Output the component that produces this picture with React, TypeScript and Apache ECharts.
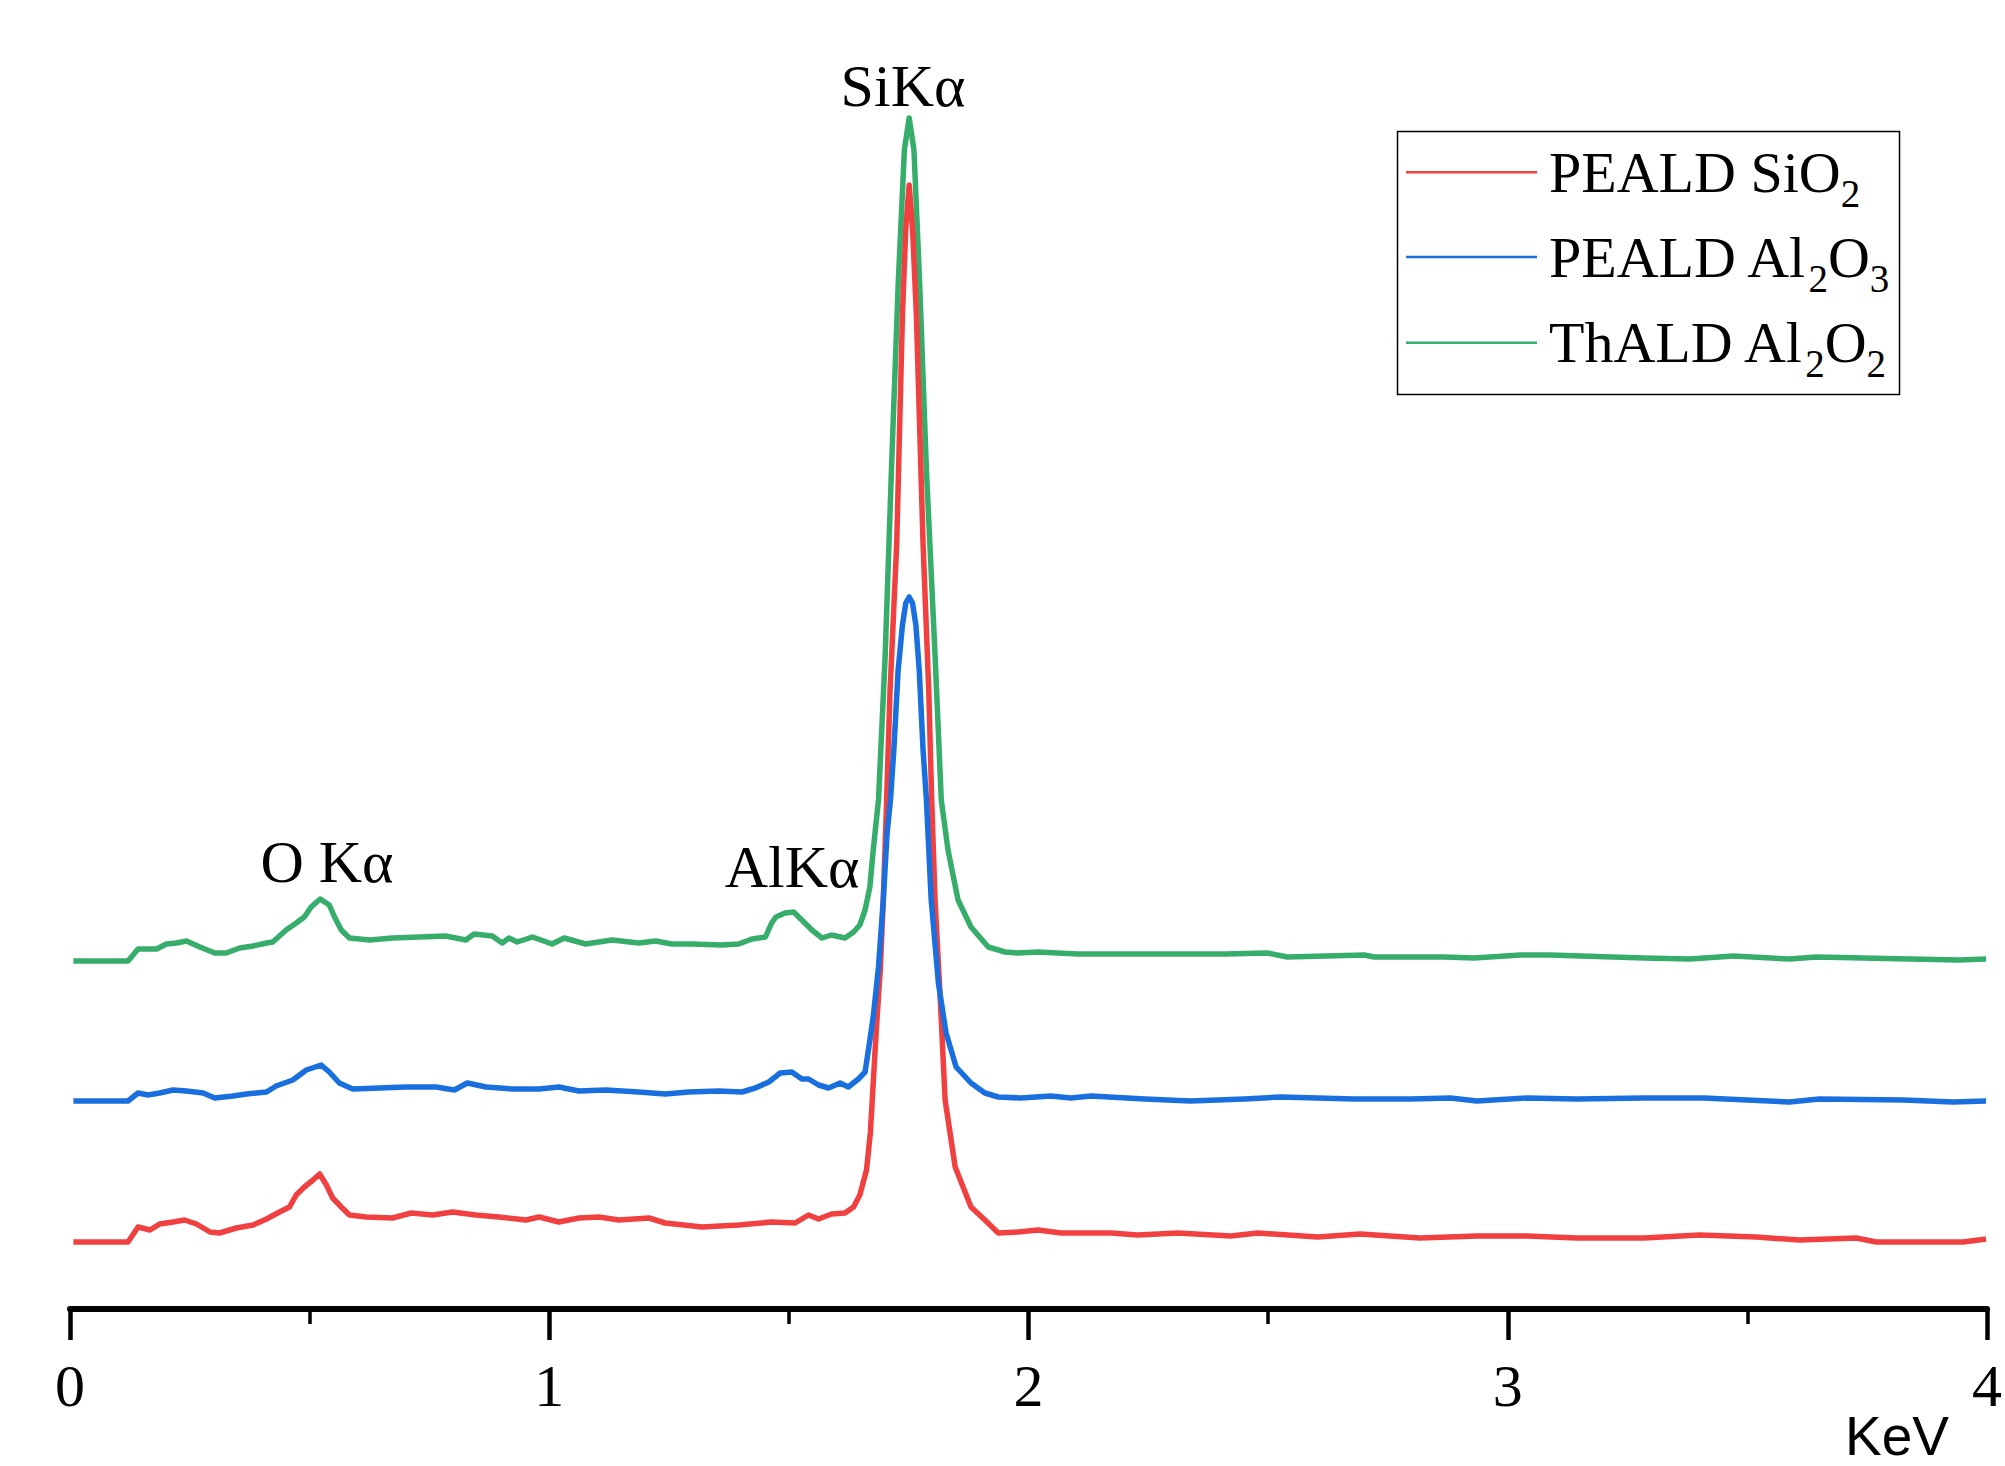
import React, { useEffect, useRef } from "react";
import * as echarts from "echarts";

// ---- data (energy in keV, intensity in a.u. with vertical offsets as plotted) ----
const energyMin = 0;
const energyMax = 4;
const energyStep = 1;
const intensityMax = 1309;

const seriesNames = ["PEALD SiO2", "PEALD Al2O3", "ThALD Al2O2"];
const legendTexts = [
  "{m|PEALD SiO}{s|2}",
  "{m|PEALD Al}{s|2}{m|O}{s|3}",
  "{m|ThALD Al}{s|2}{m|O}{s|2}",
];
const peakLabelTexts = ["O Kα", "AlKα", "SiKα"];
const axisUnit = "KeV";

const peSiO2: [number, number][] = [
  [0.007, 67], [0.121, 67], [0.142, 82], [0.167, 79], [0.187, 85], [0.215, 87], [0.239, 89], [0.264, 85],
  [0.292, 77], [0.312, 76], [0.347, 81], [0.382, 84], [0.41, 90], [0.437, 97], [0.458, 102], [0.472, 114],
  [0.489, 122], [0.507, 129], [0.521, 135], [0.535, 124], [0.548, 111], [0.566, 102], [0.583, 94], [0.618, 92],
  [0.673, 91], [0.712, 96], [0.757, 94], [0.798, 97], [0.847, 94], [0.895, 92], [0.951, 89], [0.979, 92],
  [1.02, 87], [1.062, 91], [1.104, 92], [1.145, 89], [1.208, 91], [1.242, 86], [1.319, 82], [1.395, 84],
  [1.464, 87], [1.513, 86], [1.541, 94], [1.562, 90], [1.589, 95], [1.617, 96], [1.635, 102], [1.648, 114],
  [1.662, 139], [1.67, 176], [1.676, 226], [1.682, 276], [1.691, 342], [1.697, 409], [1.704, 509], [1.711, 617],
  [1.725, 765], [1.737, 995], [1.744, 1081], [1.751, 1124], [1.758, 1081], [1.766, 995], [1.78, 765], [1.792, 617],
  [1.798, 509], [1.805, 409], [1.816, 309], [1.826, 209], [1.847, 142], [1.88, 102], [1.909, 89], [1.937, 76],
  [1.978, 77], [2.02, 79], [2.068, 76], [2.172, 76], [2.228, 74], [2.311, 76], [2.422, 73], [2.478, 76],
  [2.603, 72], [2.692, 75], [2.817, 71], [2.936, 73], [3.04, 73], [3.144, 71], [3.284, 71], [3.4, 74],
  [3.519, 72], [3.609, 69], [3.727, 71], [3.769, 67], [3.95, 67], [3.998, 70],
];

const peAl2O3: [number, number][] = [
  [0.007, 208], [0.121, 208], [0.142, 216], [0.163, 214], [0.187, 216], [0.215, 219], [0.243, 218], [0.278, 216],
  [0.302, 211], [0.34, 213], [0.368, 215], [0.41, 217], [0.43, 223], [0.465, 229], [0.493, 239], [0.524, 244],
  [0.541, 237], [0.562, 226], [0.59, 220], [0.646, 221], [0.701, 222], [0.764, 222], [0.802, 219], [0.829, 226],
  [0.868, 222], [0.923, 220], [0.979, 220], [1.02, 222], [1.062, 218], [1.118, 219], [1.187, 217], [1.242, 215],
  [1.291, 217], [1.353, 218], [1.402, 217], [1.43, 221], [1.458, 227], [1.482, 236], [1.506, 237], [1.527, 230],
  [1.541, 230], [1.562, 224], [1.583, 221], [1.607, 226], [1.624, 222], [1.645, 230], [1.659, 237], [1.666, 259],
  [1.676, 292], [1.687, 342], [1.697, 409], [1.705, 476], [1.712, 509], [1.719, 559], [1.728, 639], [1.737, 684],
  [1.744, 706], [1.751, 712], [1.758, 706], [1.765, 684], [1.772, 639], [1.78, 559], [1.787, 509], [1.797, 409],
  [1.812, 326], [1.828, 276], [1.849, 242], [1.88, 226], [1.909, 216], [1.937, 212], [1.984, 211], [2.047, 213],
  [2.088, 211], [2.13, 213], [2.243, 210], [2.338, 208], [2.451, 210], [2.526, 212], [2.68, 210], [2.796, 210],
  [2.88, 211], [2.936, 208], [3.04, 211], [3.144, 210], [3.284, 211], [3.409, 211], [3.588, 207], [3.65, 210],
  [3.825, 209], [3.929, 207], [3.998, 208],
];

const thAl2O2: [number, number][] = [
  [0.007, 348], [0.121, 348], [0.142, 360], [0.181, 360], [0.201, 365], [0.222, 366], [0.243, 368], [0.271, 362],
  [0.302, 356], [0.326, 356], [0.354, 361], [0.382, 363], [0.41, 366], [0.423, 367], [0.451, 379], [0.472, 386],
  [0.489, 392], [0.503, 402], [0.522, 410], [0.541, 404], [0.552, 392], [0.566, 379], [0.583, 371], [0.625, 369],
  [0.673, 371], [0.729, 372], [0.784, 373], [0.826, 369], [0.843, 375], [0.881, 373], [0.902, 366], [0.916, 371],
  [0.933, 367], [0.965, 372], [1.006, 365], [1.031, 371], [1.076, 365], [1.131, 369], [1.187, 366], [1.222, 368],
  [1.256, 365], [1.298, 365], [1.36, 364], [1.395, 365], [1.423, 370], [1.451, 372], [1.464, 386], [1.473, 392],
  [1.492, 396], [1.51, 397], [1.527, 389], [1.548, 379], [1.569, 371], [1.589, 374], [1.617, 371], [1.635, 377],
  [1.648, 384], [1.659, 399], [1.669, 422], [1.676, 459], [1.687, 509], [1.701, 654], [1.714, 839], [1.728, 1024],
  [1.741, 1159], [1.751, 1191], [1.761, 1159], [1.773, 1024], [1.787, 839], [1.805, 654], [1.818, 509], [1.832, 459],
  [1.853, 409], [1.88, 382], [1.916, 362], [1.951, 357], [1.978, 356], [2.02, 357], [2.103, 355], [2.243, 355],
  [2.409, 355], [2.499, 356], [2.54, 352], [2.701, 354], [2.721, 352], [2.867, 352], [2.93, 351], [3.026, 354],
  [3.088, 354], [3.284, 351], [3.38, 350], [3.471, 353], [3.588, 350], [3.644, 352], [3.838, 350], [3.942, 349],
  [3.998, 350],
];

const SERIF = "'Liberation Serif', 'Times New Roman', serif";
const SANS = "'Liberation Sans', Arial, sans-serif";

export default function App() {
  const ref = useRef<HTMLDivElement>(null);

  useEffect(() => {
    if (!ref.current) return;
    const chart = echarts.init(ref.current, undefined, { renderer: "svg" });

    const spectra = [peSiO2, peAl2O3, thAl2O2];
    const colors = ["#F14040", "#1A6FDF", "#37AD6B"];
    const zs = [3, 4, 2];

    const legendX = 1397.5;
    const legendY = 131.5;
    const rowY = [172.3, 257, 342.7];

    const legendGraphics: any[] = [
      {
        type: "rect",
        z: 100,
        shape: { x: legendX, y: legendY, width: 502, height: 263 },
        style: { fill: "#ffffff", stroke: "#000000", lineWidth: 1.5 },
      },
    ];
    rowY.forEach((yy, i) => {
      legendGraphics.push({
        type: "line",
        z: 101,
        shape: { x1: 1406, y1: yy, x2: 1537, y2: yy },
        style: { stroke: colors[i], lineWidth: 2.5 },
      });
      legendGraphics.push({
        type: "text",
        z: 101,
        x: 1549,
        y: yy,
        style: {
          text: legendTexts[i],
          fill: "#000000",
          fontSize: 58,
          fontFamily: SERIF,
          align: "left",
          verticalAlign: "middle",
          rich: {
            m: { fontSize: 58, fontFamily: SERIF, fill: "#000000" },
            s: { fontSize: 39, fontFamily: SERIF, fill: "#000000", padding: [42, 0, 0, 0] },
          },
        },
      });
    });

    const labelPos = [
      [327, 862],
      [792, 867],
      [903, 86],
    ];
    const peakGraphics = peakLabelTexts.map((t, i) => ({
      type: "text",
      z: 100,
      x: labelPos[i][0],
      y: labelPos[i][1],
      style: {
        text: t,
        fill: "#000000",
        fontSize: 60,
        fontFamily: SERIF,
        align: "center",
        verticalAlign: "middle",
      },
    }));

    const unitGraphic = {
      type: "text",
      z: 100,
      x: 1845,
      y: 1408,
      style: {
        text: axisUnit,
        fill: "#000000",
        fontSize: 55,
        fontFamily: SANS,
        align: "left",
        verticalAlign: "top",
      },
    };

    const option: any = {
      animation: false,
      backgroundColor: "#ffffff",
      grid: { left: 70, right: 14, top: 0, bottom: 157, containLabel: false },
      xAxis: {
        type: "value",
        min: energyMin,
        max: energyMax,
        interval: energyStep,
        axisLine: { show: true, onZero: false, lineStyle: { color: "#000000", width: 6 } },
        axisTick: { show: true, inside: false, length: 31, lineStyle: { color: "#000000", width: 4.5 } },
        minorTick: { show: true, splitNumber: 2, length: 15, lineStyle: { color: "#000000", width: 3.5 } },
        splitLine: { show: false },
        minorSplitLine: { show: false },
        axisLabel: { color: "#000000", fontSize: 60, fontFamily: SERIF, margin: 47 },
      },
      yAxis: { type: "value", min: 0, max: intensityMax, show: false },
      series: spectra.map((d, i) => ({
        type: "line",
        name: seriesNames[i],
        data: d,
        z: zs[i],
        symbol: "none",
        showSymbol: false,
        silent: true,
        lineStyle: { color: colors[i], width: 5.5, join: "round" },
        itemStyle: { color: colors[i] },
      })),
      graphic: [...legendGraphics, ...peakGraphics, unitGraphic],
    };

    chart.setOption(option);
    return () => {
      chart.dispose();
    };
  }, []);

  return (
    <div
      ref={ref}
      style={{ position: "absolute", left: 0, top: 0, width: 2005, height: 1466 }}
    />
  );
}
